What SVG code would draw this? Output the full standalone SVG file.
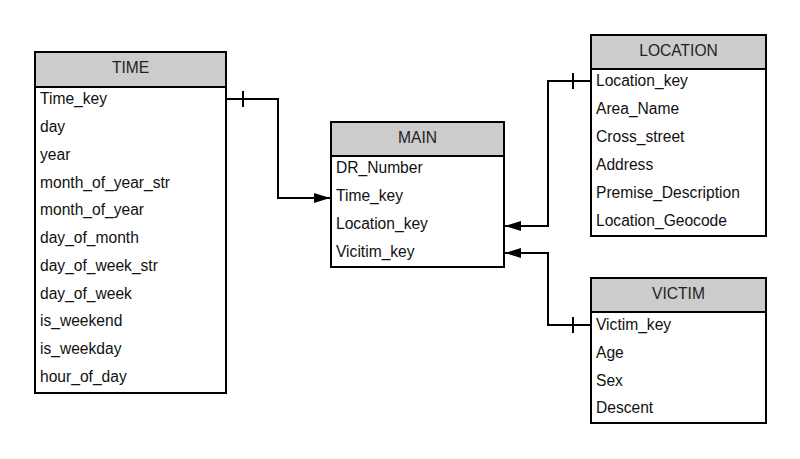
<svg xmlns="http://www.w3.org/2000/svg" width="800" height="459" viewBox="0 0 800 459">
<defs>
<style>
.box{fill:#ffffff;stroke:#000;stroke-width:2}
.hdr{fill:#cccccc;stroke:#000;stroke-width:2}
.t{font-family:"Liberation Sans",Arial,sans-serif;font-size:15.6px;fill:#111}
.h{font-family:"Liberation Sans",Arial,sans-serif;font-size:15.6px;fill:#222;text-anchor:middle}
.c{fill:none;stroke:#000;stroke-width:2}
</style>
<marker id="arr" viewBox="0 0 16 10" refX="16" refY="5" markerWidth="16" markerHeight="10" markerUnits="userSpaceOnUse" orient="auto">
<path d="M0,0 L16,5 L0,10 z" fill="#000"/>
</marker>
</defs>
<rect width="800" height="459" fill="#fff"/>
<g id="connectors">
<path class="c" d="M226,99 H278 V198 H330" marker-end="url(#arr)"/>
<line class="c" x1="243" y1="91" x2="243" y2="107"/>
<path class="c" d="M591,81 H548 V226 H505" marker-end="url(#arr)"/>
<line class="c" x1="573" y1="73" x2="573" y2="89"/>
<path class="c" d="M591,325 H548 V253 H505" marker-end="url(#arr)"/>
<line class="c" x1="573" y1="317" x2="573" y2="333"/>
</g>
<g id="TIME">
<rect class="box" x="35" y="52" width="191" height="341"/>
<rect class="hdr" x="35" y="52" width="191" height="35"/>
<text class="h" x="130.5" y="73">TIME</text>
<text class="t" x="40" y="104">Time_key</text>
<text class="t" x="40" y="132">day</text>
<text class="t" x="40" y="160">year</text>
<text class="t" x="40" y="188">month_of_year_str</text>
<text class="t" x="40" y="215">month_of_year</text>
<text class="t" x="40" y="243">day_of_month</text>
<text class="t" x="40" y="271">day_of_week_str</text>
<text class="t" x="40" y="299">day_of_week</text>
<text class="t" x="40" y="326">is_weekend</text>
<text class="t" x="40" y="354">is_weekday</text>
<text class="t" x="40" y="382">hour_of_day</text>
</g>
<g id="MAIN">
<rect class="box" x="331" y="122" width="173" height="145"/>
<rect class="hdr" x="331" y="122" width="173" height="34"/>
<text class="h" x="417.5" y="143">MAIN</text>
<text class="t" x="336" y="173">DR_Number</text>
<text class="t" x="336" y="201">Time_key</text>
<text class="t" x="336" y="229">Location_key</text>
<text class="t" x="336" y="257">Vicitim_key</text>
</g>
<g id="LOCATION">
<rect class="box" x="591" y="35" width="175" height="201"/>
<rect class="hdr" x="591" y="35" width="175" height="34"/>
<text class="h" x="678.5" y="56">LOCATION</text>
<text class="t" x="596" y="86">Location_key</text>
<text class="t" x="596" y="114">Area_Name</text>
<text class="t" x="596" y="142">Cross_street</text>
<text class="t" x="596" y="170">Address</text>
<text class="t" x="596" y="198">Premise_Description</text>
<text class="t" x="596" y="226">Location_Geocode</text>
</g>
<g id="VICTIM">
<rect class="box" x="591" y="278" width="175" height="145"/>
<rect class="hdr" x="591" y="278" width="175" height="34"/>
<text class="h" x="678.5" y="299">VICTIM</text>
<text class="t" x="596" y="330">Victim_key</text>
<text class="t" x="596" y="358">Age</text>
<text class="t" x="596" y="386">Sex</text>
<text class="t" x="596" y="413">Descent</text>
</g>
</svg>
